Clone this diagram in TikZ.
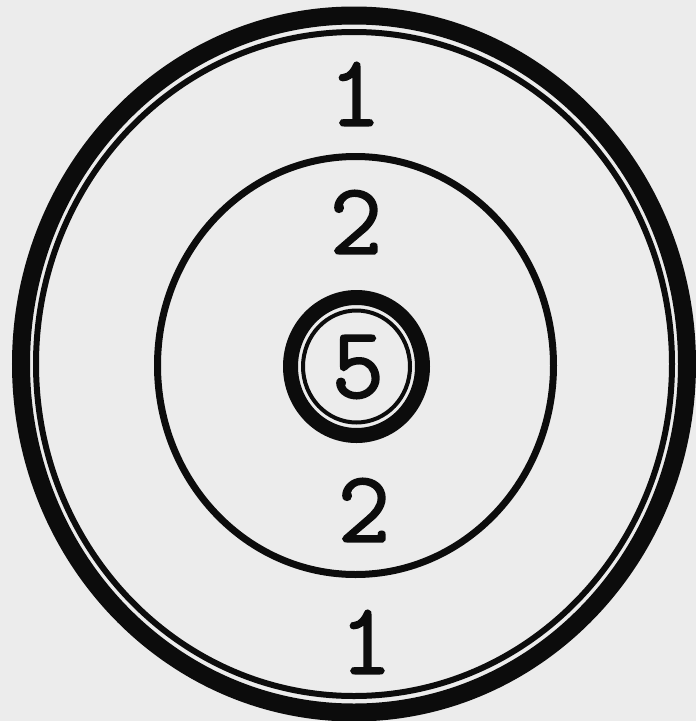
\documentclass[tikz,border=0pt]{standalone}
\usepackage{fontspec}
\newfontfamily\digfont{Latin Modern Mono}[FakeBold=1.5]
\definecolor{paper}{RGB}{236,236,236}
\definecolor{ink}{RGB}{12,12,12}
\begin{document}
\begin{tikzpicture}[x=1pt,y=-1pt,
  digit/.style={font=\digfont\fontsize{102}{102}\selectfont, text=ink, inner sep=0pt, anchor=center},
  ring/.style={draw=ink}]
\fill[paper] (0,0) rectangle (696,721);
\useasboundingbox (0,0) rectangle (696,721);
% outer ring
\draw[ring, line width=18pt] (354,364) ellipse [x radius=333, y radius=348.5];
\draw[ring, line width=6pt] (354,364) ellipse [x radius=318, y radius=332];
% middle circle
\draw[ring, line width=7pt] (355.5,365.5) ellipse [x radius=198, y radius=209];
% inner rings
\draw[ring, line width=15pt] (356.5,366.5) ellipse [x radius=66, y radius=69];
\draw[ring, line width=4pt] (356.5,366.5) ellipse [x radius=53.5, y radius=56];
% labels
\node[digit] (t1) at (355,94) {1};
\node[digit] (t2) at (356,222) {2};
\node[digit] (c5) at (358,367) {5};
\node[digit] (b2) at (364,510) {2};
\node[digit] (b1) at (366,642) {1};
\end{tikzpicture}
\end{document}
